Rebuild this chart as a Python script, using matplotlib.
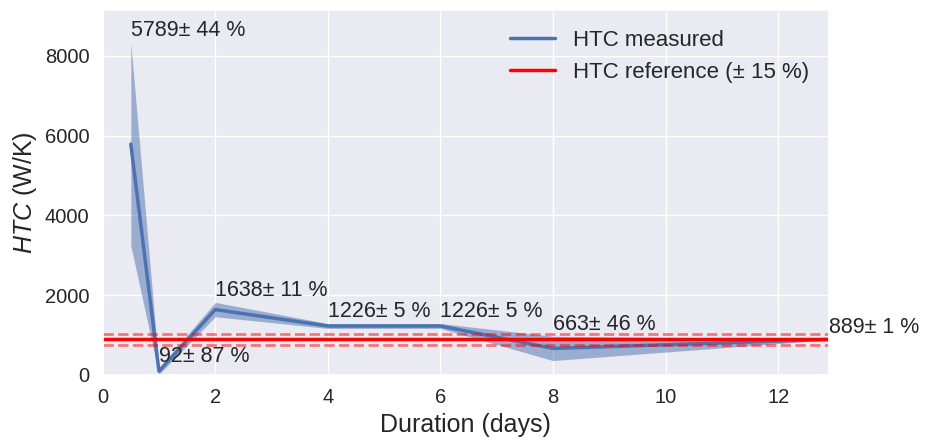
import numpy as np
import matplotlib
matplotlib.use("Agg")
import matplotlib.pyplot as plt
import seaborn as sns

sns.set_theme(style="darkgrid")
plt.rcParams['font.family'] = ['Liberation Sans', 'DejaVu Sans']
plt.rcParams['mathtext.fontset'] = 'custom'
plt.rcParams['mathtext.it'] = 'Liberation Sans:italic'
plt.rcParams['mathtext.rm'] = 'Liberation Sans'

# data
days = [0.5, 1, 2, 4, 6, 8, 12.9]
htc = [5789, 92, 1638, 1226, 1226, 663, 889]
err_pct = [44, 87, 11, 5, 5, 46, 1]
htc_ref = 889
ref_pct = 15

htc = np.array(htc, dtype=float)
err = htc * np.array(err_pct) / 100
lower = htc - err
upper = htc + err

fig, ax = plt.subplots(figsize=(9.25, 4.41), dpi=100)
fig.subplots_adjust(left=0.111, right=0.896, top=0.977, bottom=0.15)

ax.plot(days, htc, color='#4C72B0', lw=2.5, label='HTC measured')
ax.fill_between(days, lower, upper, color='#4C72B0', alpha=0.5, lw=0)

ax.axhline(htc_ref, color='red', lw=2.5, label='HTC reference (\u00b1 %d %%)' % ref_pct)
ax.axhline(htc_ref * (1 + ref_pct / 100), color='red', lw=2, ls='--', alpha=0.5)
ax.axhline(htc_ref * (1 - ref_pct / 100), color='red', lw=2, ls='--', alpha=0.5)

for x, up, v, p in zip(days, upper, htc, err_pct):
    ax.annotate('%d\u00b1 %d %%' % (v, p), (x, up), xytext=(0, 1),
                textcoords='offset points', fontsize=15.5, color='#262626',
                ha='left', va='bottom', annotation_clip=False)

ax.set_xlim(0, max(days))
ax.set_ylim(0, 9150)
ax.set_xticks([0, 2, 4, 6, 8, 10, 12])
ax.set_yticks([0, 2000, 4000, 6000, 8000])
ax.tick_params(labelsize=14.5)
ax.set_xlabel('Duration (days)', fontsize=18)
ax.set_ylabel('$HTC$ (W/K)', fontsize=18)
ax.legend(loc='upper right', fontsize=16, frameon=False)

fig.savefig('out.png', dpi=100)
